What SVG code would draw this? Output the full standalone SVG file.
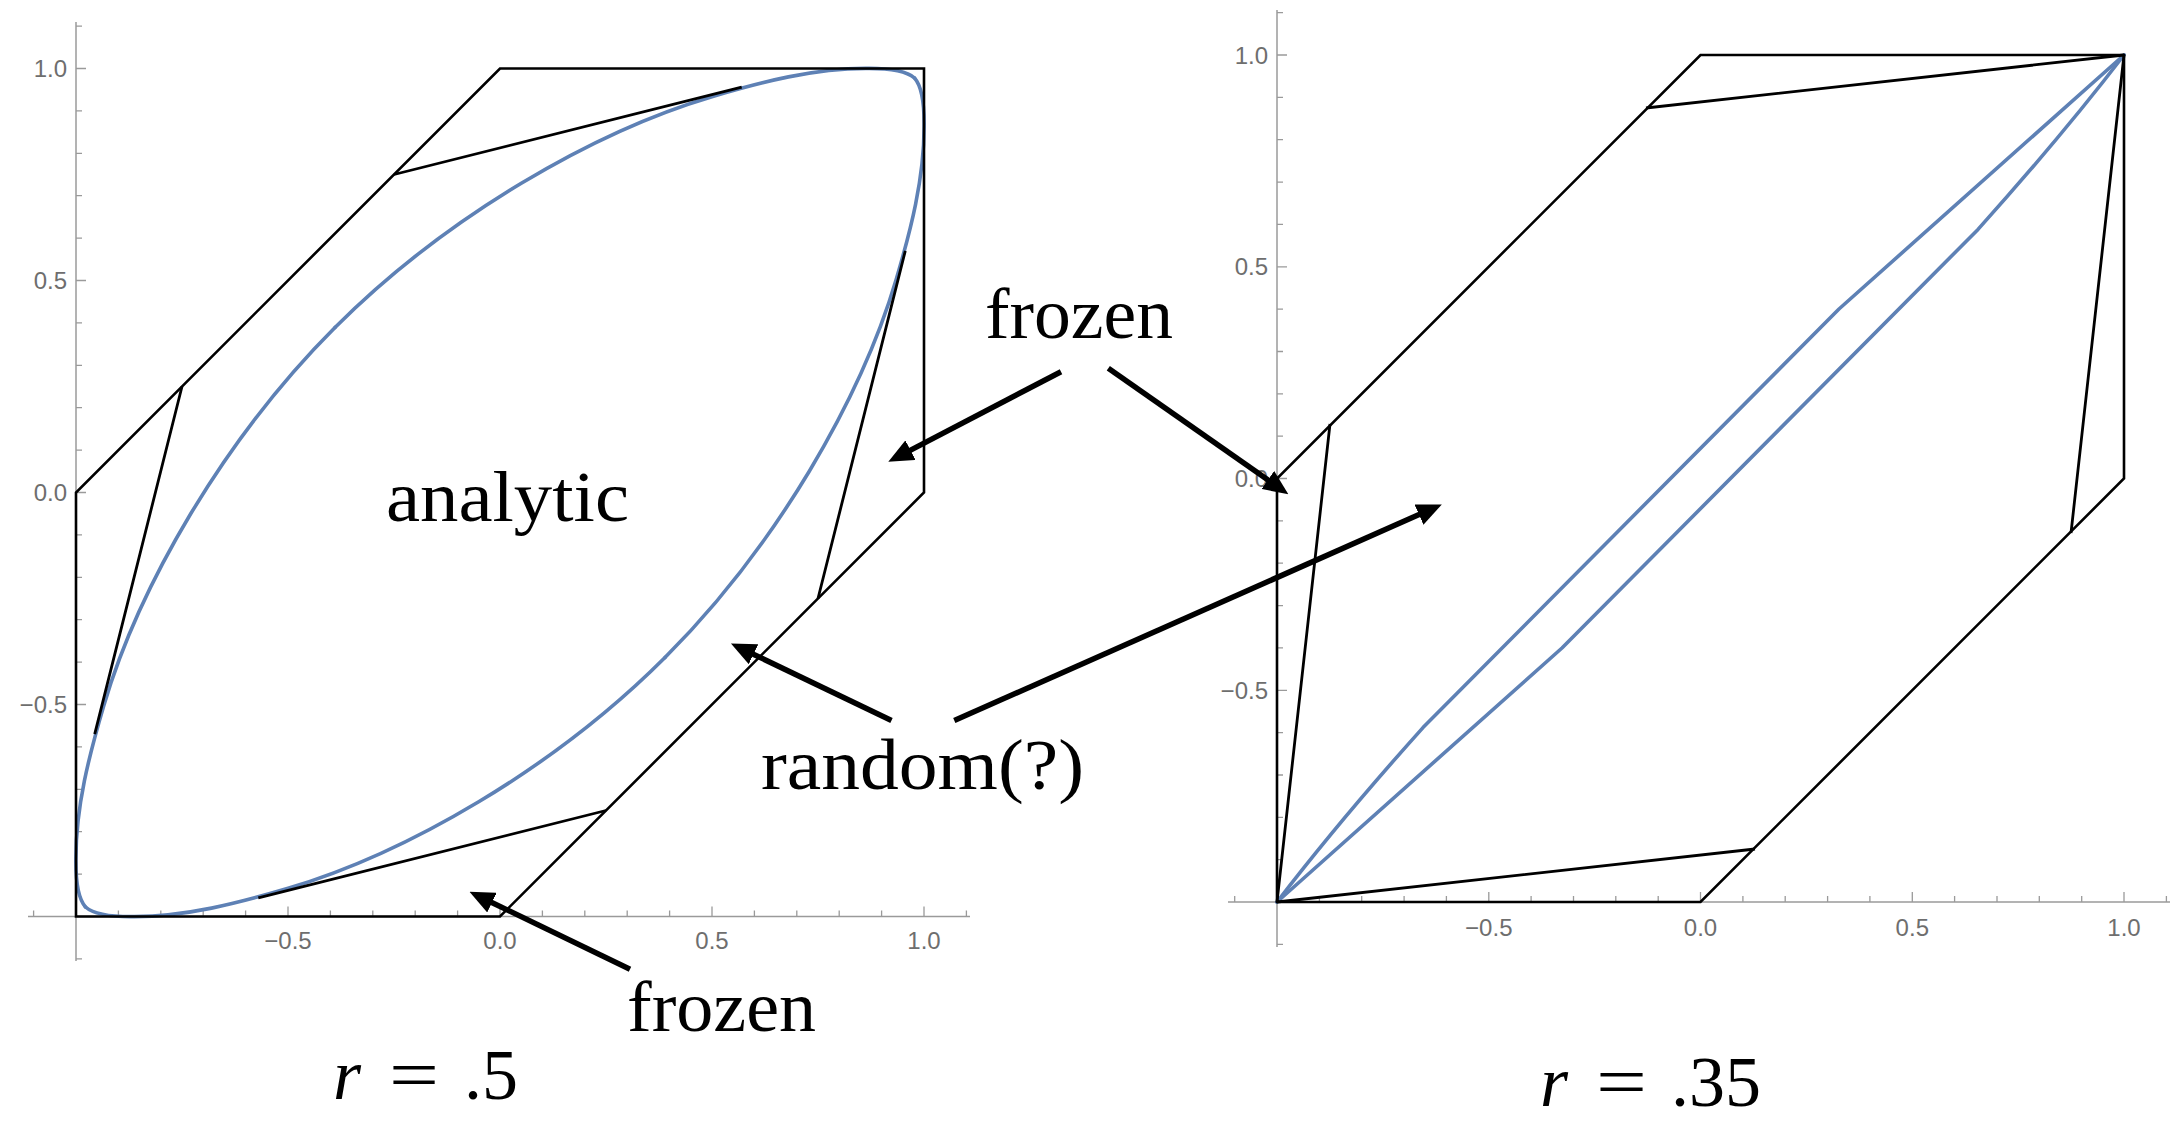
<svg xmlns="http://www.w3.org/2000/svg" xmlns:xlink="http://www.w3.org/1999/xlink" width="2170" height="1121" viewBox="0 0 2170 1121">
<style>
.axis{stroke:#9a9a9a;stroke-width:1.5;fill:none}
.tick{stroke:#9a9a9a;stroke-width:1.3;fill:none}
.tl{font-family:"Liberation Sans",Arial,sans-serif;font-size:24px;fill:#6e6e6e}
.edge{stroke:#000;stroke-width:2.6;fill:none;stroke-linejoin:miter}
.chord{stroke:#000;stroke-width:2.8;fill:none}
.curve{stroke:#5E81B5;stroke-width:3.6;fill:none;stroke-linecap:round;stroke-linejoin:round}
.lbl{font-family:"Liberation Serif","Times New Roman",serif;font-size:72px;fill:#000}
.arrow{stroke:#000;stroke-width:5.5;fill:none;marker-end:url(#head)}
</style>
<defs>
<marker id="head" markerUnits="userSpaceOnUse" viewBox="0 0 25 22" markerWidth="25" markerHeight="22" refX="2" refY="11" orient="auto">
<path d="M0,0 L25,11 L0,22 z" fill="#000"/>
</marker>
<path id="arcA" d="M335,327.5 C390,272.5 454.5,223.4 521.3,183.2 C581.3,147.2 645.6,116.2 712.7,96.4 C762.6,81.7 813.8,68.4 865.8,68.4 C882,68.2 905,69.5 914.5,78"/>
</defs>
<rect x="0" y="0" width="2170" height="1121" fill="#fff"/>

<g id="plot-left">
<g id="axes-left">
<line class="axis" x1="28" y1="916.5" x2="970" y2="916.5"/>
<line class="axis" x1="76" y1="22" x2="76" y2="961"/>
<path class="tick" d="M33.6,916.5v-6M118.4,916.5v-6M160.8,916.5v-6M203.2,916.5v-6M245.6,916.5v-6M330.4,916.5v-6M372.8,916.5v-6M415.2,916.5v-6M457.6,916.5v-6M542.4,916.5v-6M584.8,916.5v-6M627.2,916.5v-6M669.6,916.5v-6M754.4,916.5v-6M796.8,916.5v-6M839.2,916.5v-6M881.6,916.5v-6M966.4,916.5v-6M76,916.5v-10M288,916.5v-10M500,916.5v-10M712,916.5v-10M924,916.5v-10"/>
<path class="tick" d="M76,26.1h6M76,110.9h6M76,153.3h6M76,195.7h6M76,238.1h6M76,322.9h6M76,365.3h6M76,407.7h6M76,450.1h6M76,534.9h6M76,577.3h6M76,619.7h6M76,662.1h6M76,746.9h6M76,789.3h6M76,831.7h6M76,874.1h6M76,958.9h6M76,68.5h10M76,280.5h10M76,492.5h10M76,704.5h10"/>
<g class="tl" text-anchor="middle">
<text x="288" y="949">−0.5</text>
<text x="500" y="949">0.0</text>
<text x="712" y="949">0.5</text>
<text x="924" y="949">1.0</text>
</g>
<g class="tl" text-anchor="end">
<text x="67" y="77">1.0</text>
<text x="67" y="289">0.5</text>
<text x="67" y="501">0.0</text>
<text x="67" y="713">−0.5</text>
</g>
</g>
<g id="curve-left">
<use xlink:href="#arcA" class="curve"/>
<use xlink:href="#arcA" class="curve" transform="matrix(0,-1,-1,0,992.5,992.5)"/>
<use xlink:href="#arcA" class="curve" transform="matrix(-1,0,0,-1,1000,985)"/>
<use xlink:href="#arcA" class="curve" transform="matrix(0,1,1,0,7.5,-7.5)"/>
</g>
<g id="hexagon-left">
<path class="edge" d="M500,68.5 L924,68.5 L924,492.5 L500,916.5 L76,916.5 L76,492.5 Z"/>
<path class="chord" d="M394,174.5 L741.7,87.2 M182,386.5 L94.7,734.2 M818,598.5 L905.3,250.8 M606,810.5 L258.3,897.8"/>
</g>
</g>

<g id="plot-right">
<g id="axes-right">
<line class="axis" x1="1228" y1="902" x2="2170" y2="902"/>
<line class="axis" x1="1277" y1="10" x2="1277" y2="947"/>
<path class="tick" d="M1234.7,902v-6M1319.4,902v-6M1361.7,902v-6M1404.1,902v-6M1446.4,902v-6M1531.1,902v-6M1573.5,902v-6M1615.8,902v-6M1658.2,902v-6M1742.9,902v-6M1785.2,902v-6M1827.6,902v-6M1869.9,902v-6M1954.6,902v-6M1997,902v-6M2039.3,902v-6M2081.7,902v-6M2166.4,902v-6M1277,902v-10M1488.8,902v-10M1700.5,902v-10M1912.3,902v-10M2124,902v-10"/>
<path class="tick" d="M1277,12.7h6M1277,97.4h6M1277,139.7h6M1277,182.1h6M1277,224.4h6M1277,309.1h6M1277,351.5h6M1277,393.8h6M1277,436.2h6M1277,520.9h6M1277,563.2h6M1277,605.6h6M1277,647.9h6M1277,732.6h6M1277,775h6M1277,817.3h6M1277,859.7h6M1277,944.4h6M1277,55h10M1277,266.8h10M1277,478.5h10M1277,690.3h10"/>
<g class="tl" text-anchor="middle">
<text x="1488.8" y="936">−0.5</text>
<text x="1700.5" y="936">0.0</text>
<text x="1912.3" y="936">0.5</text>
<text x="2124" y="936">1.0</text>
</g>
<g class="tl" text-anchor="end">
<text x="1268" y="63.5">1.0</text>
<text x="1268" y="275.3">0.5</text>
<text x="1268" y="487">0.0</text>
<text x="1268" y="698.8">−0.5</text>
</g>
</g>
<g id="curves-right">
<path class="curve" d="M1277,902 Q1340,820 1423,727.6 L1839,309 L2124,55"/>
<path class="curve" d="M2124,55 Q2061,137 1978,229.4 L1562,648 L1277,902"/>
</g>
<g id="hexagon-right">
<path class="edge" d="M1700.5,55 L2124,55 L2124,478.5 L1700.5,902 L1277,902 L1277,478.5 Z"/>
<path class="chord" d="M2124,55 L1646,108 M1277,902 L1330,424 M2124,55 L2071,533 M1277,902 L1755,849"/>
</g>
</g>

<g id="label-frozen-top"><text class="lbl" x="985" y="338" textLength="188" lengthAdjust="spacingAndGlyphs">frozen</text></g>
<g id="label-analytic"><text class="lbl" x="386" y="521" textLength="243" lengthAdjust="spacingAndGlyphs">analytic</text></g>
<g id="label-random"><text class="lbl" x="761" y="789" textLength="323" lengthAdjust="spacingAndGlyphs">random(?)</text></g>
<g id="label-frozen-bottom"><text class="lbl" x="627" y="1031" textLength="189" lengthAdjust="spacingAndGlyphs">frozen</text></g>
<g id="caption-left">
<text class="lbl" x="333" y="1099" font-style="italic">r</text>
<text class="lbl" x="389" y="1099" textLength="50" lengthAdjust="spacingAndGlyphs">=</text>
<text class="lbl" x="464" y="1099">.5</text>
</g>
<g id="caption-right">
<text class="lbl" x="1540" y="1106" font-style="italic">r</text>
<text class="lbl" x="1596" y="1106" textLength="51" lengthAdjust="spacingAndGlyphs">=</text>
<text class="lbl" x="1671" y="1106">.35</text>
</g>

<g id="connectors">
<line class="arrow" x1="1061" y1="371.7" x2="908.7" y2="451.1"/>
<line class="arrow" x1="1108.3" y1="368.3" x2="1269.5" y2="481.1"/>
<line class="arrow" x1="891.5" y1="720.4" x2="751.7" y2="653.4"/>
<line class="arrow" x1="954.3" y1="720.5" x2="1420.8" y2="513.8"/>
<line class="arrow" x1="630" y1="969.2" x2="490.2" y2="901.7"/>
</g>
</svg>
